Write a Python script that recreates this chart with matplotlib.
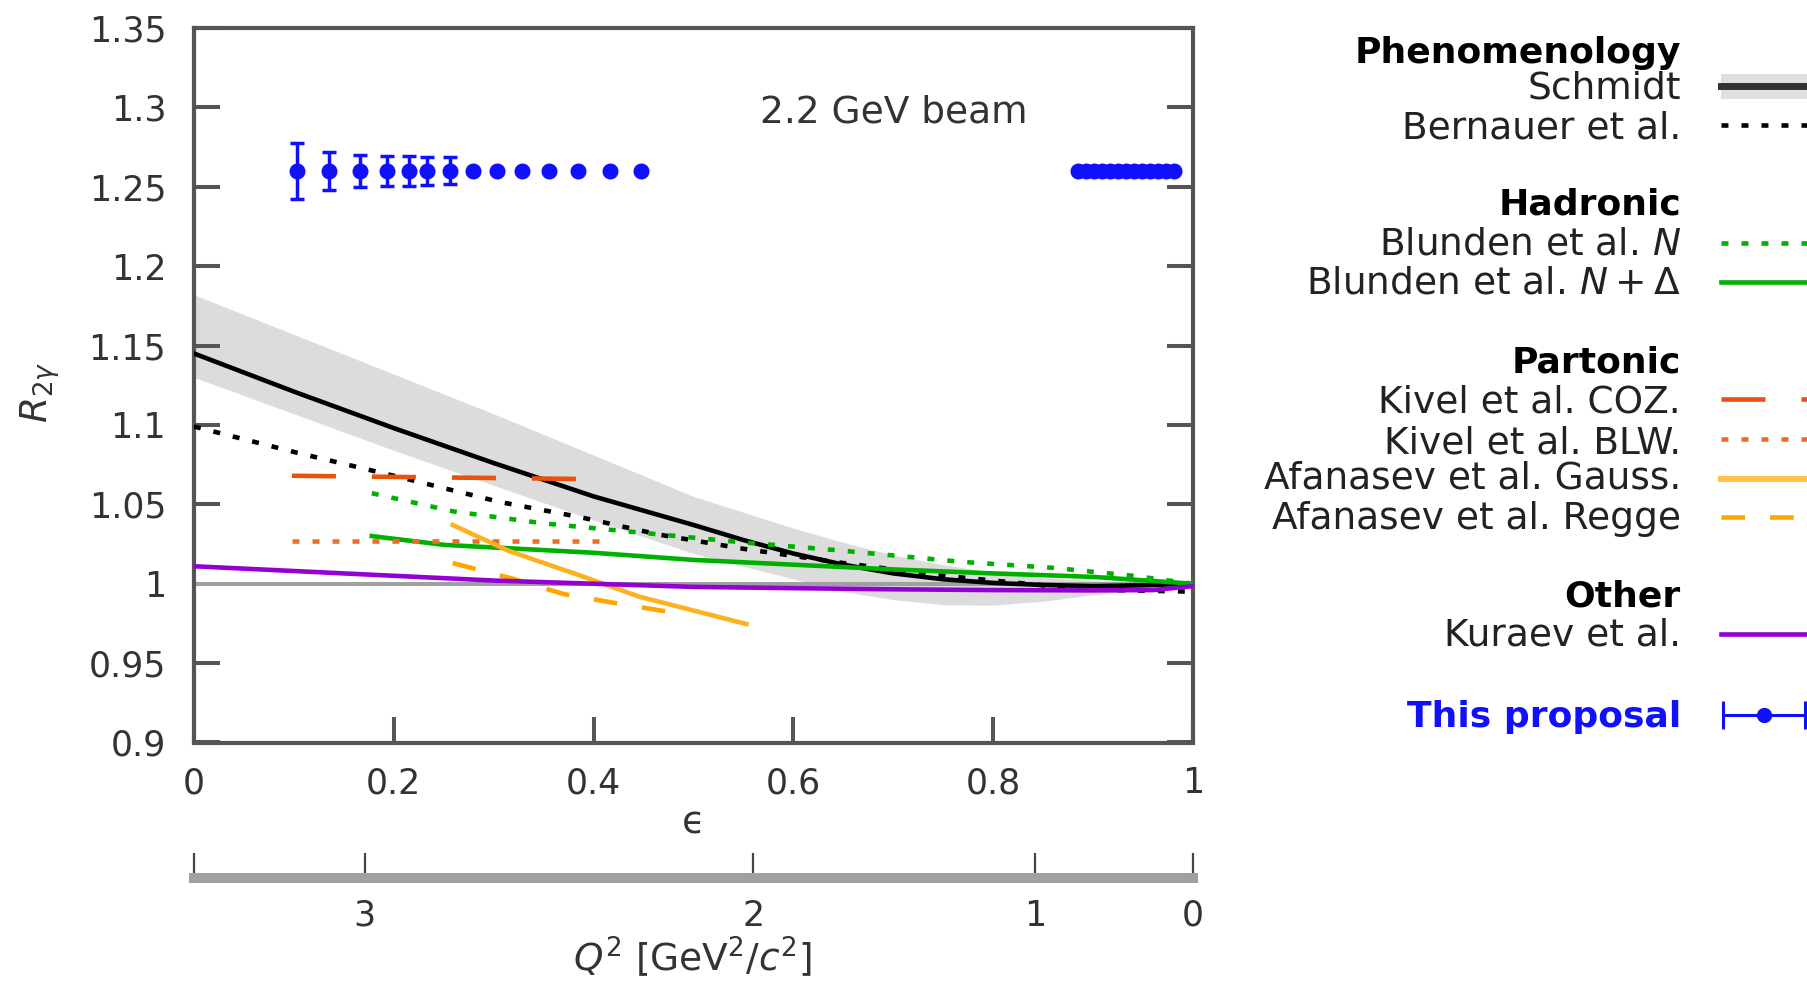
import numpy as np
import matplotlib.pyplot as plt
import matplotlib as mpl
from matplotlib import ticker
from matplotlib.patches import Rectangle

mpl.rcParams['lines.scale_dashes'] = False
mpl.rcParams['font.family'] = ['DejaVu Sans']
mpl.rcParams['mathtext.fontset'] = 'dejavusans'

# ---------------- data (epsilon, R_2gamma) ----------------
schmidt_eps = [0, 0.1, 0.2, 0.3, 0.4, 0.5, 0.55, 0.6, 0.65, 0.7, 0.75, 0.8, 0.85, 0.9, 0.95, 1.0]
schmidt_val = [1.145, 1.121, 1.098, 1.076, 1.055, 1.037, 1.0275, 1.019, 1.012, 1.0065,
               1.0028, 1.0005, 0.9992, 0.9985, 0.999, 1.0]
schmidt_lo = [1.130, 1.107, 1.084, 1.062, 1.040, 1.019, 1.011, 1.003, 0.995, 0.990,
              0.9868, 0.9865, 0.989, 0.993, 0.9965, 1.0]
schmidt_hi = [1.182, 1.157, 1.132, 1.107, 1.081, 1.055, 1.045, 1.035, 1.026, 1.018,
              1.012, 1.007, 1.004, 1.002, 1.001, 1.0]

bernauer_eps = [0, 0.1, 0.2, 0.306, 0.386, 0.465, 0.55, 0.65, 0.75, 0.85, 0.92, 1.0]
bernauer_val = [1.099, 1.083, 1.068, 1.0515, 1.042, 1.031, 1.022, 1.013, 1.005, 0.999, 0.996, 0.995]

blunden_n_eps = [0.178, 0.26, 0.35, 0.45, 0.55, 0.64, 0.77, 0.86, 0.94, 1.0]
blunden_n_val = [1.057, 1.0455, 1.038, 1.032, 1.026, 1.0213, 1.0137, 1.010, 1.005, 1.0]

blunden_nd_eps = [0.178, 0.25, 0.4, 0.5, 0.6, 0.7, 0.8, 0.9, 1.0]
blunden_nd_val = [1.030, 1.0245, 1.0195, 1.015, 1.012, 1.009, 1.0065, 1.0043, 1.0]

kivel_coz_eps = [0.098, 0.383]
kivel_coz_val = [1.068, 1.066]
kivel_blw_eps = [0.098, 0.413]
kivel_blw_val = [1.027, 1.027]

gauss_eps = [0.259, 0.313, 0.346, 0.38, 0.446, 0.553]
gauss_val = [1.037, 1.0212, 1.0139, 1.0066, 0.9918, 0.9746]
regge_eps = [0.259, 0.32, 0.37, 0.42, 0.478]
regge_val = [1.013, 1.003, 0.9935, 0.988, 0.982]

kuraev_eps = [0, 0.1, 0.2, 0.3, 0.4, 0.5, 0.6, 0.7, 0.8, 0.9, 0.96, 1.0]
kuraev_val = [1.011, 1.008, 1.005, 1.002, 1.0, 0.998, 0.9972, 0.9965, 0.996, 0.9958, 0.996, 0.9985]

# projected points ("This proposal")
prop_eps = [0.103, 0.135, 0.166, 0.193, 0.2155, 0.2335, 0.256, 0.279, 0.303, 0.328,
            0.355, 0.384, 0.416, 0.447,
            0.885, 0.893, 0.901, 0.909, 0.917, 0.925, 0.933, 0.941, 0.949, 0.957,
            0.965, 0.973, 0.981]
prop_err = [0.0175, 0.012, 0.010, 0.0095, 0.0092, 0.009, 0.0085, 0.0015, 0.0015, 0.0012,
            0.001, 0.001, 0.001, 0.001,
            0.001, 0.001, 0.001, 0.001, 0.001, 0.001, 0.001, 0.001, 0.001, 0.001,
            0.001, 0.001, 0.001]
prop_val = [1.26] * len(prop_eps)

q2_ticks = [3, 2, 1, 0]
E_beam = 2.2
M_p = 0.938272

# ---------------- kinematics for the Q^2 scale ----------------
s = np.linspace(0, 1, 4001)  # sin^2(theta/2)
q2_grid = 4 * E_beam**2 * s / (1 + 2 * E_beam / M_p * s)
tau = q2_grid / (4 * M_p**2)
with np.errstate(divide='ignore'):
    eps_grid = 1 / (1 + 2 * (1 + tau) * s / (1 - s))


def eps_to_q2(e):
    return np.interp(e, eps_grid[::-1], q2_grid[::-1])


def q2_to_eps(q):
    return np.interp(q, q2_grid, eps_grid)


W, H = 1808, 982


def fx(x):
    return x / W


def fy(y):
    return 1 - y / H


fig = plt.figure(figsize=(W / 100, H / 100), dpi=100)
ax = fig.add_axes([fx(194), fy(742.5), fx(1193) - fx(194), fy(28) - fy(742.5)])

lw = 3.3
dot = (0, (5, 9.4))
orange = '#ffb020'
ax.fill_between(schmidt_eps, schmidt_lo, schmidt_hi, color='#dcdcdc', lw=0, zorder=1)
ax.axhline(1.0, color='#a0a0a0', lw=2.9, zorder=2)
ax.plot(schmidt_eps, schmidt_val, color='black', lw=lw, zorder=3)
ax.plot(bernauer_eps, bernauer_val, color='black', lw=lw, ls=dot, zorder=3)
ax.plot(blunden_n_eps, blunden_n_val, color='#00b000', lw=lw, ls=dot, zorder=3)
ax.plot(blunden_nd_eps, blunden_nd_val, color='#00b000', lw=lw, zorder=3)
ax.plot(kivel_coz_eps, kivel_coz_val, color='#e8520c', lw=lw, ls=(0, (31.7, 25.9)), zorder=3)
ax.plot(kivel_blw_eps, kivel_blw_val, color='#f06a28', lw=lw, ls=dot, zorder=3)
ax.plot(gauss_eps, gauss_val, color=orange, lw=lw, zorder=3)
ax.plot(regge_eps, regge_val, color='#ffa500', lw=lw, ls=(0, (17, 18)), zorder=3)
ax.plot(kuraev_eps, kuraev_val, color='#9400d3', lw=lw, zorder=3)
ax.errorbar(prop_eps, prop_val, yerr=prop_err, fmt='o', color='#1010ff', ms=10.5,
            elinewidth=2.5, capsize=4.7, capthick=2.5, zorder=4)

ax.text(0.70, 1.2968, '2.2 GeV beam', ha='center', va='center', fontsize=27, color='#333333')

ax.set_xlim(0, 1)
ax.set_ylim(0.9, 1.35)
ax.set_xticks([0, 0.2, 0.4, 0.6, 0.8, 1.0])
ax.set_yticks(np.arange(0.9, 1.351, 0.05))
fmt = ticker.FuncFormatter(lambda v, p: f'{v:g}')
ax.xaxis.set_major_formatter(fmt)
ax.yaxis.set_major_formatter(fmt)
for sp in ax.spines.values():
    sp.set_color('#555555')
    sp.set_linewidth(3)
ax.tick_params(direction='in', length=19, width=2.9, color='#555555',
               labelsize=25, labelcolor='#333333')
ax.tick_params(axis='y', left=True, right=True, pad=20)
ax.tick_params(axis='x', top=False, bottom=True, pad=17)

fig.text(fx(693), fy(824), 'ϵ', ha='center', va='center', fontsize=27, color='#333333')
fig.text(fx(40), fy(392), r'$R_{2\gamma}$', ha='center', va='center', rotation=90,
         fontsize=27, color='#333333')

# Q^2 scale under the plot
sec = ax.secondary_xaxis((742.5 - 878) / 714.5, functions=(eps_to_q2, q2_to_eps))
sec.set_xticks([q2_grid[-1]] + q2_ticks, labels=[''] + [str(q) for q in q2_ticks])
sec.spines['bottom'].set_color('#a0a0a0')
sec.spines['bottom'].set_linewidth(7.2)
sec.tick_params(direction='in', length=18, width=1.6, color='#444444',
                labelsize=25, labelcolor='#333333', pad=15)
fig.text(fx(692), fy(957), r'$Q^2\ [\mathrm{GeV}^2/c^2]$', ha='center', va='center',
         fontsize=27, color='#333333')

# ---------------- legend ----------------
lax = fig.add_axes([0, 0, 1, 1])
lax.set_xlim(0, W)
lax.set_ylim(H, 0)
lax.axis('off')
lax.patch.set_visible(False)

x_txt, x0, x1 = 1681, 1721, 1815


def ltext(y, label, bold=False, color='#222222'):
    lax.text(x_txt, y + 11.5, label, ha='right', va='baseline',
             fontsize=26 if bold else 27, fontweight='bold' if bold else 'normal',
             color=color)


ltext(51, 'Phenomenology', bold=True, color='black')
ltext(87, 'Schmidt')
lax.add_patch(Rectangle((x0, 74), x1 - x0, 25, color='#e0e0e0', lw=0))
lax.plot([x0, x1], [86, 86], color='#333333', lw=5)
ltext(127, 'Bernauer et al.')
lax.plot([x0, x1], [125, 125], color='black', lw=lw, ls=dot)

ltext(203, 'Hadronic', bold=True, color='black')
ltext(243, r'Blunden et al. $N$')
lax.plot([x0, x1], [243, 243], color='#00b000', lw=lw, ls=dot)
ltext(282.5, r'Blunden et al. $N+\Delta$')
lax.plot([x0, x1], [282, 282], color='#00b000', lw=lw)

ltext(361, 'Partonic', bold=True, color='black')
ltext(401, 'Kivel et al. COZ.')
lax.plot([x0, x1], [399, 399], color='#e8520c', lw=lw, ls=(0, (31.7, 25.9)))
ltext(441.5, 'Kivel et al. BLW.')
lax.plot([x0, x1], [439, 439], color='#f06a28', lw=lw, ls=dot)
ltext(477, 'Afanasev et al. Gauss.')
lax.plot([x0, x1], [479, 479], color='#ffc24a', lw=lw + 1)
ltext(517.5, 'Afanasev et al. Regge')
lax.plot([x0, x1], [517, 517], color='#ffa500', lw=lw, ls=(0, (17, 18)))

ltext(595, 'Other', bold=True, color='black')
ltext(634, 'Kuraev et al.')
lax.plot([x0, x1], [634, 634], color='#9400d3', lw=lw)

ltext(715, 'This proposal', bold=True, color='#1010ff')
lax.errorbar([1764], [715], xerr=[41], fmt='o', color='#1010ff', ms=10,
             elinewidth=2.2, capsize=10, capthick=2.2)

fig.savefig('out.png', dpi=100)
